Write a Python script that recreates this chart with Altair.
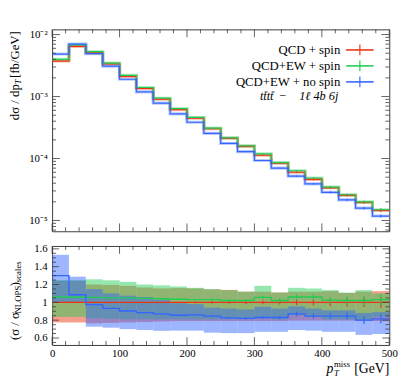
import altair as alt
import pandas as pd

# ---------------- data ----------------
bin_lo = [0, 25, 50, 75, 100, 125, 150, 175, 200, 225, 250, 275, 300, 325, 350, 375, 400, 425, 450, 475]
bin_hi = [25, 50, 75, 100, 125, 150, 175, 200, 225, 250, 275, 300, 325, 350, 375, 400, 425, 450, 475, 500]

series = ["QCD + spin", "QCD+EW + spin", "QCD+EW + no spin"]
colors = ["#EE3311", "#22CC55", "#3366FF"]

red_vals = [3.74e-3, 6.45e-3, 5.07e-3, 3.36e-3, 2.12e-3, 1.35e-3, 9.06e-4, 6.16e-4, 4.47e-4, 3.02e-4,
            2.12e-4, 1.57e-4, 1.13e-4, 8.4e-5, 6.0e-5, 4.6e-5, 3.37e-5, 2.55e-5, 1.95e-5, 1.45e-5]
green_vals = [3.98e-3, 6.8e-3, 5.3e-3, 3.47e-3, 2.2e-3, 1.4e-3, 9.4e-4, 6.4e-4, 4.6e-4, 3.1e-4,
              2.16e-4, 1.6e-4, 1.19e-4, 8.6e-5, 6.35e-5, 4.85e-5, 3.45e-5, 2.6e-5, 2.0e-5, 1.49e-5]
blue_vals = [4.85e-3, 7.0e-3, 4.93e-3, 3.1e-3, 1.9e-3, 1.19e-3, 7.85e-4, 5.25e-4, 3.85e-4, 2.55e-4,
             1.75e-4, 1.29e-4, 9.3e-5, 7.0e-5, 5.2e-5, 3.9e-5, 2.85e-5, 2.15e-5, 1.58e-5, 1.18e-5]

rel_err = [0.004, 0.004, 0.004, 0.004, 0.004, 0.005, 0.006, 0.008, 0.010, 0.012,
           0.015, 0.018, 0.021, 0.025, 0.030, 0.034, 0.040, 0.046, 0.053, 0.060]

ratio_red = [1.0, 1.0, 1.0, 1.0, 1.0, 1.0, 1.0, 1.0, 1.0, 1.0,
             1.0, 1.0, 1.0, 1.0, 1.0, 1.0, 1.0, 1.0, 1.0, 1.0]
ratio_green = [1.06, 1.06, 1.055, 1.05, 1.05, 1.045, 1.04, 1.035, 1.03, 1.03,
               1.02, 1.02, 1.055, 1.02, 1.06, 1.06, 1.025, 1.02, 1.02, 1.03]
ratio_blue = [1.30, 1.085, 0.975, 0.932, 0.903, 0.885, 0.87, 0.855, 0.86, 0.845,
              0.826, 0.82, 0.83, 0.83, 0.87, 0.845, 0.845, 0.845, 0.80, 0.815]

red_lo = [0.775, 0.775, 0.765, 0.77, 0.775, 0.78, 0.785, 0.79, 0.79, 0.79,
          0.79, 0.79, 0.79, 0.79, 0.795, 0.795, 0.795, 0.795, 0.79, 0.79]
red_hi = [1.24, 1.24, 1.20, 1.195, 1.185, 1.167, 1.156, 1.16, 1.155, 1.145,
          1.14, 1.12, 1.12, 1.11, 1.12, 1.12, 1.125, 1.105, 1.12, 1.125]
green_lo = [0.837, 0.837, 0.82, 0.815, 0.81, 0.81, 0.81, 0.81, 0.81, 0.81,
            0.81, 0.81, 0.82, 0.81, 0.855, 0.837, 0.81, 0.81, 0.80, 0.837]
green_hi = [1.25, 1.25, 1.258, 1.247, 1.23, 1.20, 1.19, 1.178, 1.163, 1.148,
            1.137, 1.12, 1.185, 1.11, 1.163, 1.155, 1.137, 1.11, 1.137, 1.10]
blue_lo = [1.0, 1.0, 0.727, 0.716, 0.70, 0.69, 0.68, 0.683, 0.683, 0.66,
           0.655, 0.655, 0.67, 0.67, 0.69, 0.683, 0.67, 0.67, 0.635, 0.645]
blue_hi = [1.533, 1.288, 1.148, 1.10, 1.075, 1.06, 1.03, 0.99, 0.98, 0.94,
           0.93, 0.92, 0.95, 0.93, 0.955, 0.93, 0.91, 0.91, 0.88, 0.89]

y_ticks_top = [1e-2, 1e-3, 1e-4, 1e-5]
y_ticks_bot = [0.6, 0.8, 1.0, 1.2, 1.4, 1.6]
x_ticks = [0, 100, 200, 300, 400, 500]

# ---------------- layout ----------------
W = 344
H1 = 206
H2 = 101
FONT = "Liberation Serif"
FRAME = "#3a3a3a"

xscale = alt.Scale(domain=[0, 500], nice=False, zero=False)
yscale_top = alt.Scale(type="log", domain=[10 ** -5.174, 10 ** -1.916], nice=False)
yscale_bot = alt.Scale(domain=[0.522, 1.632], nice=False, zero=False)
cscale = alt.Scale(domain=series, range=colors)

top_vals = [red_vals, green_vals, blue_vals]
ratio_vals = [ratio_red, ratio_green, ratio_blue]
bands = [(red_lo, red_hi), (green_lo, green_hi), (blue_lo, blue_hi)]


def step_df(vals_list):
    rows = []
    for s, vals in zip(series, vals_list):
        for lo, v in zip(bin_lo, vals):
            rows.append({"series": s, "x": lo, "y": v})
        rows.append({"series": s, "x": bin_hi[-1], "y": vals[-1]})
    return pd.DataFrame(rows)


def err_df(vals_list):
    rows = []
    for s, vals in zip(series, vals_list):
        for lo, hi, v, e in zip(bin_lo, bin_hi, vals, rel_err):
            rows.append({"series": s, "xc": (lo + hi) / 2, "y1": v * (1 - e), "y2": v * (1 + e)})
    return pd.DataFrame(rows)


def minor_log_ticks():
    out = []
    for n in range(-6, -1):
        for k in range(2, 10):
            v = k * 10.0 ** n
            if 10 ** -5.174 < v < 10 ** -1.916:
                out.append(v)
    return out


def ticks(vals, channel, length, h, yscale, yaxis, xaxis):
    df = pd.DataFrame({"v": vals})
    layers = []
    if channel == "y":
        for x0, x1 in [(0, length), (W - length, W)]:
            layers.append(alt.Chart(df).mark_rule(color=FRAME, strokeWidth=0.8).encode(
                y=alt.Y("v:Q", scale=yscale, axis=yaxis), x=alt.value(x0), x2=alt.value(x1)))
    else:
        for y0, y1 in [(0, length), (h - length, h)]:
            layers.append(alt.Chart(df).mark_rule(color=FRAME, strokeWidth=0.8).encode(
                x=alt.X("v:Q", scale=xscale, axis=xaxis), y=alt.value(y0), y2=alt.value(y1)))
    return layers


def text_mark(txt, x, y, size, align="left", angle=0, italic=False, baseline="alphabetic", color="black"):
    return alt.Chart(pd.DataFrame({"t": [txt]})).mark_text(
        text=txt, font=FONT, fontSize=size, align=align, angle=angle, baseline=baseline,
        fontStyle="italic" if italic else "normal", color=color
    ).encode(x=alt.value(x), y=alt.value(y))


def small_rule(x0, x1, y0, y1, color="black", width=1.0):
    return alt.Chart(pd.DataFrame({"k": [0]})).mark_rule(color=color, strokeWidth=width).encode(
        x=alt.value(x0), x2=alt.value(x1), y=alt.value(y0), y2=alt.value(y1))


x_minor = [v for v in range(0, 501, 20) if v % 100 != 0]

# ---------------- top panel ----------------
top_axis_y = alt.Axis(values=y_ticks_top, ticks=False, domain=False, grid=False, title=None,
                      labelFont=FONT, labelFontSize=11, labelPadding=5, labelColor="black",
                      labelFlush=False,
                      labelExpr="datum.value >= 0.005 ? '10⁻²' : datum.value >= 0.0005 ? '10⁻³' : datum.value >= 0.00005 ? '10⁻⁴' : '10⁻⁵'")
top_axis_x = None

sdf = step_df(top_vals)
halo = alt.Chart(sdf).mark_line(interpolate="step-after", strokeWidth=3.2, opacity=0.35).encode(
    x=alt.X("x:Q", scale=xscale, axis=top_axis_x),
    y=alt.Y("y:Q", scale=yscale_top, axis=top_axis_y),
    color=alt.Color("series:N", scale=cscale, legend=None),
    detail="series:N")
lines_top = alt.Chart(sdf).mark_line(interpolate="step-after", strokeWidth=1.2).encode(
    x=alt.X("x:Q", scale=xscale, axis=top_axis_x),
    y=alt.Y("y:Q", scale=yscale_top, axis=top_axis_y),
    color=alt.Color("series:N", scale=cscale, legend=None),
    detail="series:N")
errs_top = alt.Chart(err_df(top_vals)).mark_rule(strokeWidth=1).encode(
    x=alt.X("xc:Q", scale=xscale, axis=top_axis_x),
    y=alt.Y("y1:Q", scale=yscale_top, axis=top_axis_y), y2="y2:Q",
    color=alt.Color("series:N", scale=cscale, legend=None))

top_layers = [halo, lines_top, errs_top]
top_layers += ticks(y_ticks_top, "y", 8, H1, yscale_top, top_axis_y, top_axis_x)
top_layers += ticks(minor_log_ticks(), "y", 4, H1, yscale_top, top_axis_y, top_axis_x)
top_layers += ticks(x_ticks, "x", 8, H1, yscale_top, top_axis_y, top_axis_x)
top_layers += ticks(x_minor, "x", 4, H1, yscale_top, top_axis_y, top_axis_x)

# legend
for i, (s, c) in enumerate(zip(series, colors)):
    yy = 21 + 16.3 * i
    top_layers.append(text_mark(s, 294, yy, 13, align="right", baseline="middle"))
    top_layers.append(small_rule(300, 328, yy, yy, color=c, width=1.6))
    top_layers.append(small_rule(314, 314, yy - 5.5, yy + 5.5, color=c, width=1.2))

# process label  t tbar t tbar - 1l 4b 6j
T0 = 212
TW = 3.55
BASE = 72.5
top_layers.append(text_mark("tttt", T0, BASE, 12.5, align="left", italic=True))
for k in [1, 3]:
    tx = T0 + TW * k
    top_layers.append(small_rule(tx + 1.2, tx + 4.3, BASE - 8.6, BASE - 8.6, color="black", width=0.8))
top_layers.append(text_mark("−", 232, BASE, 12.5, align="left"))
top_layers.append(text_mark("1ℓ 4b 6j", 292, BASE, 12.5, align="right", italic=True))

# y title (top)
top_layers.append(text_mark("dσ / dp", -38, 56, 13, align="right", angle=270, baseline="middle"))
top_layers.append(text_mark("T", -34.5, 56, 9, align="left", angle=270, baseline="middle", italic=True))
top_layers.append(text_mark("[fb/GeV]", -38, 49.5, 13, align="left", angle=270, baseline="middle"))

top = alt.layer(*top_layers).properties(width=W, height=H1)

# ---------------- bottom panel ----------------
bot_axis_y = alt.Axis(values=y_ticks_bot, ticks=False, domain=False, grid=False, title=None,
                      labelFont=FONT, labelFontSize=11, labelPadding=5, labelColor="black",
                      labelFlush=False,
                      labelExpr="datum.value == 1 ? '1' : format(datum.value, '.1f')")
bot_axis_x = alt.Axis(values=x_ticks, ticks=False, domain=False, grid=False, title=None,
                      labelFont=FONT, labelFontSize=11, labelPadding=3, labelColor="black",
                      labelFlush=False, format="d")

band_rows = []
for s, (lo_l, hi_l) in zip(series, bands):
    for a, b, lo, hi in zip(bin_lo, bin_hi, lo_l, hi_l):
        band_rows.append({"series": s, "x1": a, "x2": b, "lo": lo, "hi": hi})
band_df = pd.DataFrame(band_rows)
band_chart = alt.Chart(band_df).mark_rect(opacity=0.48).encode(
    x=alt.X("x1:Q", scale=xscale, axis=bot_axis_x), x2="x2:Q",
    y=alt.Y("lo:Q", scale=yscale_bot, axis=bot_axis_y), y2="hi:Q",
    color=alt.Color("series:N", scale=cscale, legend=None))

rdf = step_df(ratio_vals)
lines_bot = alt.Chart(rdf).mark_line(interpolate="step-after", strokeWidth=1.4).encode(
    x=alt.X("x:Q", scale=xscale, axis=bot_axis_x),
    y=alt.Y("y:Q", scale=yscale_bot, axis=bot_axis_y),
    color=alt.Color("series:N", scale=cscale, legend=None),
    detail="series:N")
errs_bot = alt.Chart(err_df(ratio_vals)).mark_rule(strokeWidth=1.2).encode(
    x=alt.X("xc:Q", scale=xscale, axis=bot_axis_x),
    y=alt.Y("y1:Q", scale=yscale_bot, axis=bot_axis_y), y2="y2:Q",
    color=alt.Color("series:N", scale=cscale, legend=None))

bot_minor_y = [round(0.55 + 0.05 * i, 2) for i in range(22) if round(0.55 + 0.05 * i, 2) not in y_ticks_bot]
bot_layers = [band_chart, lines_bot, errs_bot]
bot_layers += ticks(y_ticks_bot, "y", 7, H2, yscale_bot, bot_axis_y, bot_axis_x)
bot_layers += ticks([v for v in bot_minor_y if 0.522 < v < 1.632], "y", 4, H2, yscale_bot, bot_axis_y, bot_axis_x)
bot_layers += ticks(x_ticks, "x", 8, H2, yscale_bot, bot_axis_y, bot_axis_x)
bot_layers += ticks(x_minor, "x", 4, H2, yscale_bot, bot_axis_y, bot_axis_x)

# y title (bottom)
bot_layers.append(text_mark("(σ / σ", -38, 96, 13, align="left", angle=270, baseline="middle"))
bot_layers.append(text_mark("NLOPS", -34.5, 69, 9, align="left", angle=270, baseline="middle"))
bot_layers.append(text_mark(")", -38, 41, 13, align="left", angle=270, baseline="middle"))
bot_layers.append(text_mark("scales", -34.5, 37, 9, align="left", angle=270, baseline="middle"))

# x title
bot_layers.append(text_mark("p", 287, 130, 14, align="right", italic=True))
bot_layers.append(text_mark("T", 287.5, 133, 9, align="left", italic=True))
bot_layers.append(text_mark("miss", 287.5, 123, 9, align="left"))
bot_layers.append(text_mark("[GeV]", 344, 130, 14, align="right"))

bottom = alt.layer(*bot_layers).properties(width=W, height=H2)

chart = alt.vconcat(top, bottom, spacing=10).properties(
    padding={"left": 0, "top": 16, "right": 5, "bottom": 0}
).configure_view(stroke=FRAME, strokeWidth=1)

chart.save("out.html", embed_options={"renderer": "svg", "actions": False})
